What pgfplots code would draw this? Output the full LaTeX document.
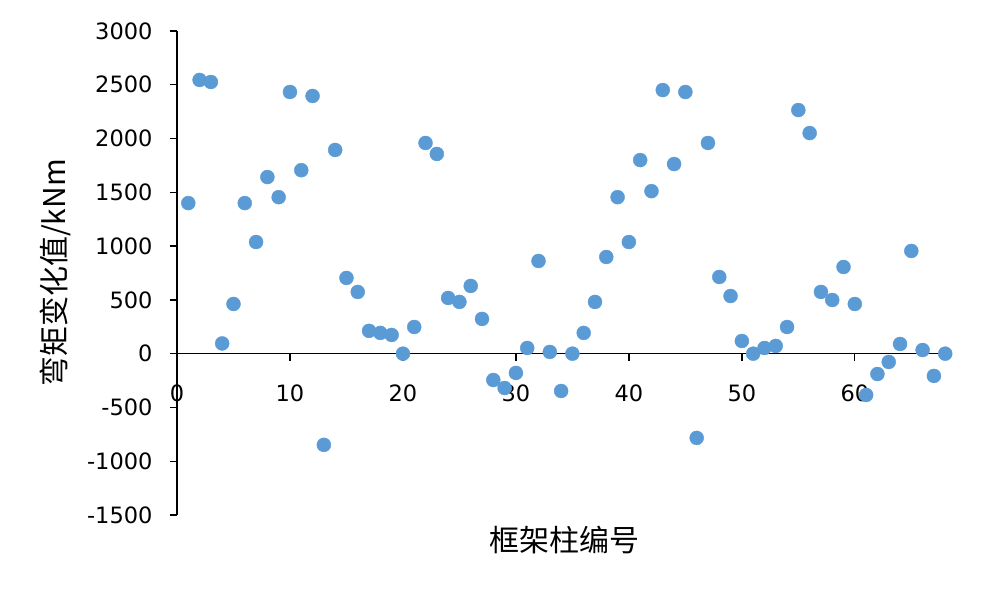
\documentclass[border=0pt]{standalone}
\usepackage{pgfplots}
\pgfplotsset{compat=1.18}
\usepackage{fontspec}
\setmainfont{Noto Sans CJK SC}
\newfontfamily\numfont{DejaVu Sans}
\definecolor{exblue}{HTML}{5B9BD5}
\begin{document}
\begin{tikzpicture}[x=1pt,y=1pt]
\path (-177pt,-80pt) rectangle (814pt,515pt);
\begin{axis}[
  at={(0pt,0pt)}, anchor=south west,
  scale only axis,
  width=775pt, height=484pt,
  xmin=0, xmax=68.6,
  ymin=-1500, ymax=3000,
  axis y line=left,
  axis x line=middle,
  axis line style={-, line width=1.3pt, black},
  xtick={0,10,...,60},
  ytick={-1500,-1000,...,3000},
  xtick align=outside, ytick align=outside,
  major tick length=7pt,
  tick style={line width=1.3pt, black},
  hide obscured x ticks=false,
  hide obscured y ticks=false,
  every tick label/.append style={font=\numfont\fontsize{22.5}{24}\selectfont},
  /pgf/number format/assume math mode=true,
  /pgf/number format/1000 sep={},
  xticklabel style={yshift=-21pt},
  yticklabel style={xshift=-14pt},
  xlabel={框架柱编号},
  ylabel={弯矩变化值/kNm},
  label style={font=\fontsize{30}{32}\selectfont},
  x label style={at={(axis description cs:0.5,0)}, anchor=north, yshift=-8pt},
  y label style={at={(axis description cs:-0.157,0.5)}, anchor=center, rotate=0},
  clip=false,
]
\addplot[only marks, mark=*, mark size=7pt, mark options={fill=exblue, draw=exblue}] coordinates {
(1,1400) (2,2545) (3,2526) (4,95) (5,462) (6,1400) (7,1038) (8,1642) (9,1455) (10,2433)
(11,1706) (12,2396) (13,-848) (14,1894) (15,704) (16,574) (17,212) (18,193) (19,174) (20,0)
(21,248) (22,1959) (23,1857) (24,518) (25,481) (26,630) (27,323) (28,-245) (29,-319) (30,-179)
(31,53) (32,862) (33,16) (34,-347) (35,0) (36,193) (37,481) (38,899) (39,1455) (40,1038)
(41,1800) (42,1511) (43,2451) (44,1763) (45,2433) (46,-783) (47,1959) (48,713) (49,536) (50,118)
(51,0) (52,53) (53,72) (54,248) (55,2265) (56,2051) (57,574) (58,499) (59,806) (60,462)
(61,-384) (62,-189) (63,-77) (64,90) (65,955) (66,34) (67,-207) (68,0)
};
\end{axis}
\end{tikzpicture}
\end{document}
